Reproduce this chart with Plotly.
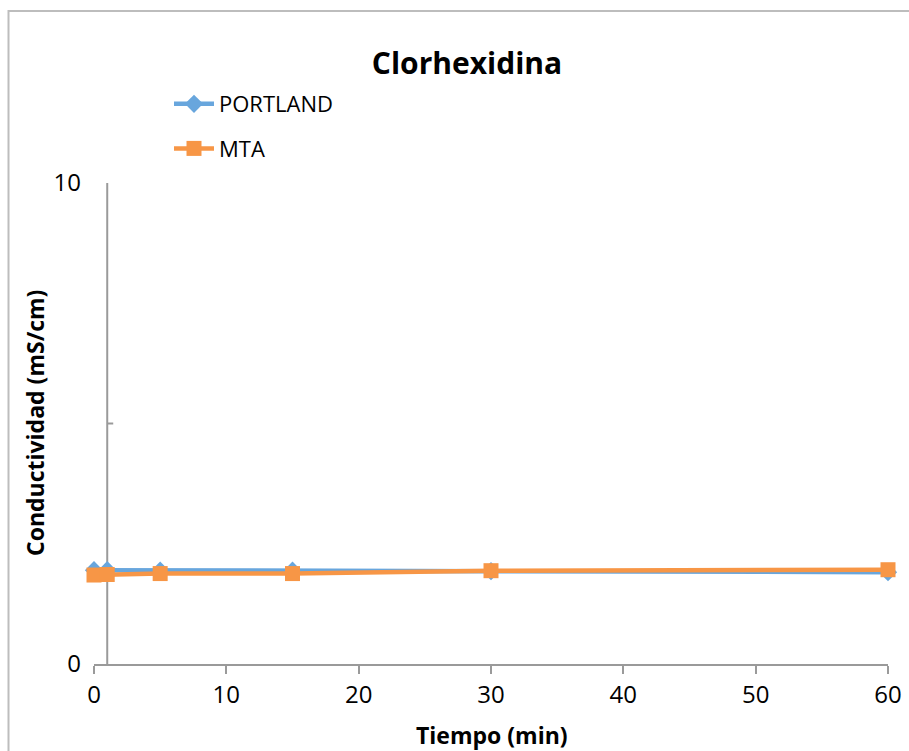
import plotly.graph_objects as go

# Conductivity readings over time for two cements in chlorhexidine
tiempo = [0, 1, 5, 15, 30, 60]
portland = [1.95, 1.95, 1.94, 1.94, 1.93, 1.91]
mta = [1.85, 1.86, 1.88, 1.88, 1.94, 1.96]

x_ticks = [0, 10, 20, 30, 40, 50, 60]
y_ticks = [0, 10]

FONT = "Open Sans"
AXIS_GRAY = "#9a9a9a"
BLUE = "#68A6DD"
ORANGE = "#F79646"

fig = go.Figure()
fig.add_trace(go.Scatter(
    x=tiempo, y=portland, name="PORTLAND", mode="lines+markers",
    line=dict(color=BLUE, width=4.5),
    marker=dict(symbol="diamond", size=14, color=BLUE),
    cliponaxis=False, legendgroup="a",
))
fig.add_trace(go.Scatter(
    x=tiempo, y=mta, name="MTA", mode="lines+markers",
    line=dict(color=ORANGE, width=4.5),
    marker=dict(symbol="square", size=15, color=ORANGE),
    cliponaxis=False, legendgroup="b",
))

fig.update_layout(
    width=909, height=751,
    margin=dict(l=94, r=21, t=183, b=87, autoexpand=False),
    paper_bgcolor="white", plot_bgcolor="white",
    font=dict(family=FONT, size=22, color="#000000"),
    title=dict(text="<b>Clorhexidina</b>", x=467 / 909, xanchor="center",
               y=1 - 63 / 751, yanchor="middle",
               font=dict(family=FONT, size=30, color="#000000")),
    showlegend=True,
    legend=dict(x=(169 - 94) / 794, xanchor="left",
                y=(664 - 83) / 481, yanchor="top",
                bgcolor="rgba(0,0,0,0)", tracegroupgap=13,
                itemwidth=40,
                font=dict(family=FONT, size=22, color="#000000")),
    xaxis=dict(range=[0, 60], tickvals=x_ticks, ticktext=[str(v) for v in x_ticks],
               showgrid=False, zeroline=False, showline=True,
               linecolor=AXIS_GRAY, linewidth=2, automargin=False,
               ticks="outside", ticklen=8, tickwidth=2, tickcolor=AXIS_GRAY,
               tickfont=dict(size=24), fixedrange=True),
    yaxis=dict(range=[0, 10], tickvals=y_ticks, ticktext=[str(v) for v in y_ticks],
               showgrid=True, gridcolor=AXIS_GRAY, gridwidth=2,
               zeroline=False, showline=False, ticks="", automargin=False,
               ticklabelstandoff=12, tickfont=dict(size=24), fixedrange=True),
    annotations=[
        dict(text="<b>Tiempo (min)</b>", xref="paper", yref="paper",
             x=(492 - 94) / 794, y=-(735 - 664) / 481,
             xanchor="center", yanchor="middle", showarrow=False,
             font=dict(family=FONT, size=23, color="#000000")),
        dict(text="<b>Conductividad (mS/cm)</b>", xref="paper", yref="paper",
             x=(35 - 94) / 794, y=(664 - 423) / 481, textangle=-90,
             xanchor="center", yanchor="middle", showarrow=False,
             font=dict(family=FONT, size=23, color="#000000")),
    ],
    shapes=[
        # vertical axis crossing the time axis at t = 1
        dict(type="line", xref="x", yref="y", x0=1, x1=1, y0=0, y1=10,
             line=dict(color=AXIS_GRAY, width=2), layer="below"),
        # minor tick at the midpoint of the vertical axis
        dict(type="line", xref="x", yref="y", xsizemode="pixel", xanchor=1,
             x0=0, x1=6, y0=5, y1=5, line=dict(color=AXIS_GRAY, width=2)),
        # chart frame
        dict(type="rect", xref="paper", yref="paper",
             x0=(8.5 - 94) / 794, x1=1.5, y0=-1, y1=(664 - 11) / 481,
             line=dict(color="#BDBDBD", width=2), layer="below"),
    ],
)

fig.write_html("out.html")
